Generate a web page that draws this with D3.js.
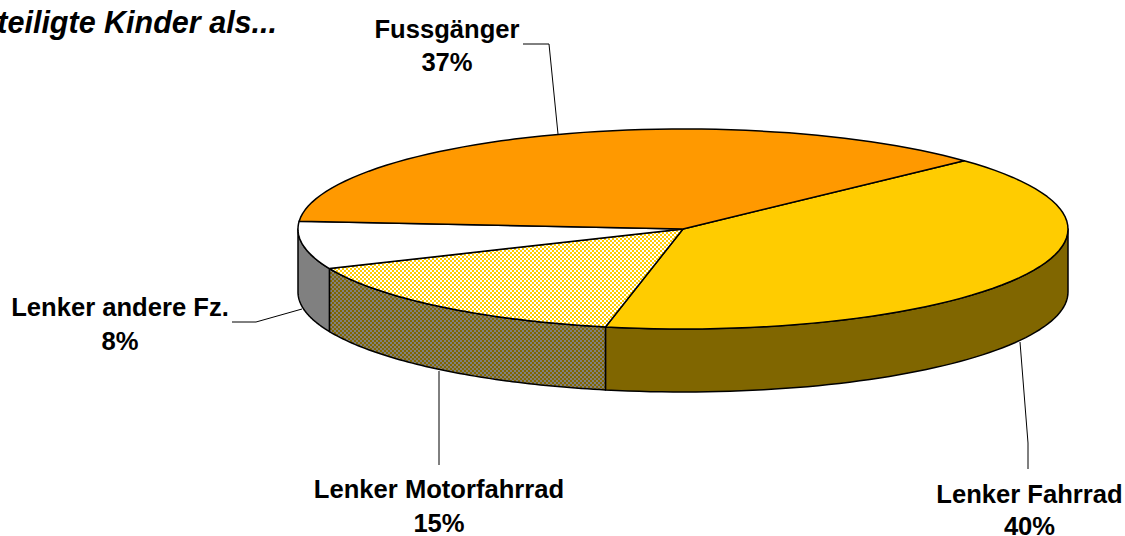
<!DOCTYPE html>
<html><head><meta charset="utf-8">
<script src="https://cdnjs.cloudflare.com/ajax/libs/d3/7.8.5/d3.min.js"></script>
<style>html,body{margin:0;padding:0;background:#fff;overflow:hidden}
text{font-family:"Liberation Sans",Arial,sans-serif;font-weight:bold;fill:#000}</style>
</head><body><svg id="c" width="1125" height="536"></svg>
<script>
const categories=["Lenker Fahrrad","Lenker Motorfahrrad","Lenker andere Fz.","Fussgänger"];
const values=[40.2,15.3,7.7,36.8];
const labels=["40%","15%","8%","37%"];
const topColors=["#FFCC00","url(#hTop)","#FFFFFF","#FF9900"];
const sideColors=["#806600","url(#hSide)","#808080","#804D00"];
const title="Beteiligte Kinder als...";
const cx=683,cy=229,rx=385,ry=100,depth=63,startDeg=46.9;

const svg=d3.select("#c");
const defs=svg.append("defs");
function checker(id,a,b,n){
  const p=defs.append("pattern").attr("id",id).attr("width",2*n).attr("height",2*n).attr("patternUnits","userSpaceOnUse");
  p.append("rect").attr("width",2*n).attr("height",2*n).attr("fill",a);
  p.append("rect").attr("width",n).attr("height",n).attr("fill",b);
  p.append("rect").attr("x",n).attr("y",n).attr("width",n).attr("height",n).attr("fill",b);
}
checker("hTop","#FFCC00","#FFFFFF",2);
checker("hSide","#806600","#808080",2);

const s0=startDeg*Math.PI/180;
const pie=d3.pie().sort(null).startAngle(s0).endAngle(s0+2*Math.PI);
const arcs=pie(values);
const px=d3.scaleLinear().domain([-1,1]).range([cx-rx,cx+rx]);
const py=d3.scaleLinear().domain([-1,1]).range([cy-ry,cy+ry]);
const pt=(a,dz=0)=>[px(Math.sin(a)),py(-Math.cos(a))+dz];
const samples=(a0,a1)=>d3.range(0,61).map(i=>a0+(a1-a0)*i/60);
const line=d3.line();

const HALF=Math.PI/2, F0=HALF, F1=3*HALF;
const wall=arcs.flatMap((d,i)=>{
  const out=[];
  for(const k of [0,1]){
    const a0=Math.max(d.startAngle,F0+k*2*Math.PI), a1=Math.min(d.endAngle,F1+k*2*Math.PI);
    if(a1>a0) out.push({i,a0,a1});
  }
  return out;
});
svg.append("g").selectAll("path").data(wall).join("path")
  .attr("d",d=>{
    const s=samples(d.a0,d.a1);
    return line([...s.map(a=>pt(a)),...s.slice().reverse().map(a=>pt(a,depth))])+"Z";
  })
  .attr("fill",d=>sideColors[d.i]).attr("stroke","#000").attr("stroke-width",1.5).attr("stroke-linejoin","round");

svg.append("g").selectAll("path").data(arcs).join("path")
  .attr("d",(d,i)=>line([[px(0),py(0)],...samples(d.startAngle,d.endAngle).map(a=>pt(a))])+"Z")
  .attr("fill",(d,i)=>topColors[i]).attr("stroke","#000").attr("stroke-width",1.5).attr("stroke-linejoin","round");

const leaders=[
  [[1020,342],[1028,443],[1028,469]],
  [[439,371],[439,465]],
  [[302,309],[256,322],[232,322]],
  [[558,134],[549,44],[523,44]]
];
svg.append("g").selectAll("path").data(leaders).join("path")
  .attr("d",d=>line(d)).attr("fill","none").attr("stroke","#000").attr("stroke-width",1);

const pos=[[1029.5,503,1029.5,535],[439,498,439,532],[120,316,120,350],[447,38,447,71]];
const g=svg.append("g").style("font-size","25.6px");
categories.forEach((c,i)=>{
  g.append("text").attr("x",pos[i][0]).attr("y",pos[i][1]).attr("text-anchor","middle").text(c);
  g.append("text").attr("x",pos[i][2]).attr("y",pos[i][3]).attr("text-anchor","middle").text(labels[i]);
});
svg.append("text").attr("x",277).attr("y",33).attr("text-anchor","end").style("font-size","30.5px").style("font-style","italic").text(title);
</script></body></html>
